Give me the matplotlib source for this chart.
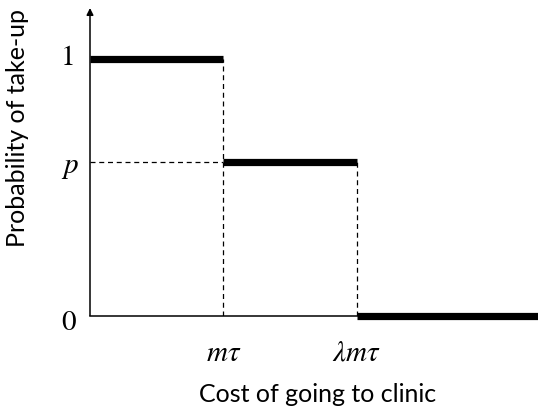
import matplotlib.pyplot as plt

plt.rcParams['font.family'] = ['Lato', 'DejaVu Sans']
plt.rcParams['mathtext.fontset'] = 'stix'

# step schedule: take-up probability by cost of going to clinic
cost_edges = [0.0, 1.0, 2.0, 3.36]
takeup = [1.0, 0.6, 0.0]
x_tick_labels = [r'$m\tau$', r'$\lambda m\tau$']
y_tick_labels = [r'$0$', r'$p$', r'$1$']

fig = plt.figure(figsize=(5.38, 4.13), dpi=100)
ax = fig.add_axes([90 / 538, 97.5 / 413, 448 / 538, 307.5 / 413])
ax.set_xlim(0, cost_edges[-1])
ax.set_ylim(0, 1.2)
ax.axis('off')

# axes drawn by hand, y-axis with an arrow head
ax.plot([0, cost_edges[-1]], [0, 0], color='black', lw=1.1, clip_on=False)
ax.annotate('', xy=(0, 1.2), xytext=(0, 0), xycoords='data',
            arrowprops=dict(arrowstyle='-|>', color='black', lw=1.1,
                            mutation_scale=10, shrinkA=0, shrinkB=0),
            annotation_clip=False)

# dashed guides
dash = (0, (4, 3))
ax.plot([cost_edges[1], cost_edges[1]], [0, takeup[0]], color='black', lw=0.9, ls=dash)
ax.plot([cost_edges[2], cost_edges[2]], [0, takeup[1]], color='black', lw=0.9, ls=dash)
ax.plot([0, cost_edges[1]], [takeup[1], takeup[1]], color='black', lw=0.9, ls=dash)

# thick steps
for i, y in enumerate(takeup):
    ax.plot([cost_edges[i], cost_edges[i + 1]], [y, y], color='black', lw=5.2,
            solid_capstyle='butt', clip_on=False)

# tick labels
ax.text(-0.1, -0.025, y_tick_labels[0], ha='right', va='center', fontsize=21)
ax.text(-0.08, takeup[1] - 0.025, y_tick_labels[1], ha='right', va='center', fontsize=21)
ax.text(-0.125, takeup[0] + 0.01, y_tick_labels[2], ha='right', va='center', fontsize=21)
for x, lab in zip(cost_edges[1:3], x_tick_labels):
    ax.text(x, -0.145, lab, ha='center', va='center', fontsize=21)

ax.text(cost_edges[-1] / 2 + 0.03, -0.31, 'Cost of going to clinic', ha='center',
        va='center', fontsize=18)
fig.text(18 / 538, 1 - 128 / 413, 'Probability of take-up', rotation=90,
         ha='center', va='center', fontsize=18)

fig.savefig('out.png', dpi=100, facecolor='w')
